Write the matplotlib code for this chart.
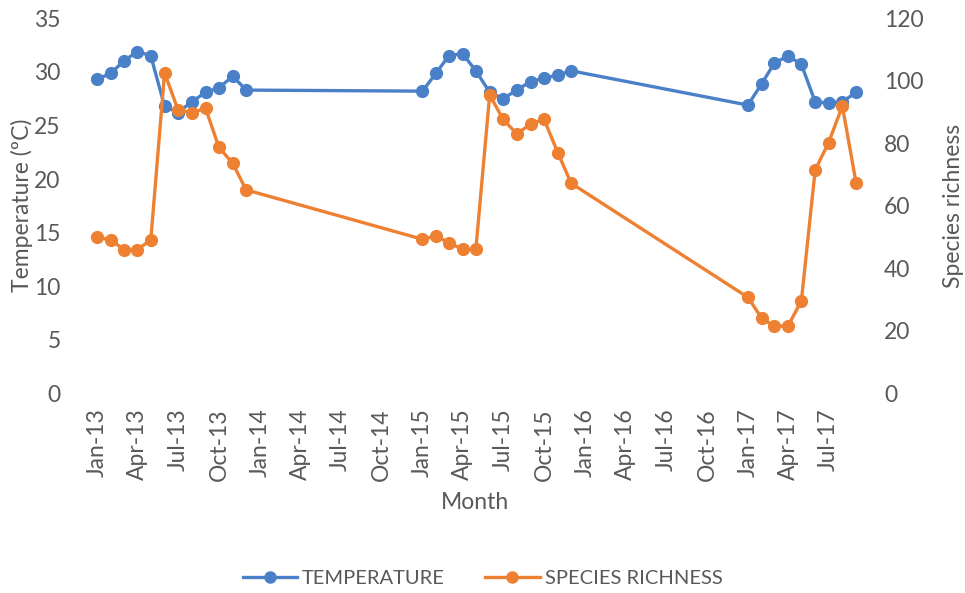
import pandas as pd
import matplotlib
matplotlib.use('Agg')
import matplotlib.pyplot as plt
import matplotlib.dates as mdates
from matplotlib.lines import Line2D

# Dados
meses = ['Jan-13', 'Feb-13', 'Mar-13', 'Apr-13', 'May-13', 'Jun-13', 'Jul-13', 'Aug-13',
         'Sep-13', 'Oct-13', 'Nov-13', 'Dec-13',
         'Jan-15', 'Feb-15', 'Mar-15', 'Apr-15', 'May-15', 'Jun-15', 'Jul-15', 'Aug-15',
         'Sep-15', 'Oct-15', 'Nov-15', 'Dec-15',
         'Jan-17', 'Feb-17', 'Mar-17', 'Apr-17', 'May-17', 'Jun-17', 'Jul-17', 'Aug-17',
         'Sep-17']
temperatura = [29.3, 29.9, 31.0, 31.9, 31.5, 26.8, 26.2, 27.2, 28.1, 28.5, 29.6, 28.3,
               28.2, 29.9, 31.5, 31.7, 30.1, 28.1, 27.5, 28.3, 29.1, 29.4, 29.7, 30.1,
               26.9, 28.9, 30.8, 31.5, 30.7, 27.2, 27.1, 27.2, 28.1]
riqueza = [49.9, 49.1, 46.0, 46.0, 49.1, 102.6, 90.7, 89.8, 91.2, 78.7, 73.6, 65.1,
           49.3, 50.3, 48.2, 46.1, 46.1, 95.5, 87.7, 83.0, 86.2, 87.7, 77.0, 67.2,
           30.7, 24.0, 21.5, 21.5, 29.6, 71.5, 80.2, 91.9, 67.2]
rotulos_x = ['Jan-13', 'Apr-13', 'Jul-13', 'Oct-13', 'Jan-14', 'Apr-14', 'Jul-14', 'Oct-14',
             'Jan-15', 'Apr-15', 'Jul-15', 'Oct-15', 'Jan-16', 'Apr-16', 'Jul-16', 'Oct-16',
             'Jan-17', 'Apr-17', 'Jul-17']

datas = pd.to_datetime(meses, format='%b-%y')
datas_ticks = pd.to_datetime(rotulos_x, format='%b-%y')

azul = '#4A80C8'
laranja = '#EE8032'
cinza = '#595959'

plt.rcParams['font.family'] = ['Lato', 'DejaVu Sans']
fs = 16.5

fig = plt.figure(figsize=(9.65, 5.93), dpi=100)
ax = fig.add_axes([80 / 965, 199.7 / 593, 790 / 965, 375 / 593])
ax2 = ax.twinx()

ax.plot(datas, temperatura, color=azul, lw=2.4, marker='o', ms=8.5, zorder=3)
ax2.plot(datas, riqueza, color=laranja, lw=2.4, marker='o', ms=8.5, zorder=3)

inicio = mdates.date2num(pd.Timestamp('2013-01-01')) - 1.28 * 30.44
fim = mdates.date2num(pd.Timestamp('2013-01-01')) + 57.0 * 30.44
ax.set_xlim(inicio, fim)
ax.set_ylim(0, 35)
ax2.set_ylim(0, 120)
ax.set_yticks(range(0, 36, 5))
ax2.set_yticks(range(0, 121, 20))
ax.set_xticks(mdates.date2num(datas_ticks))
ax.set_xticklabels(rotulos_x, rotation=90)

for a in (ax, ax2):
    for s in a.spines.values():
        s.set_visible(False)
    a.tick_params(length=0, labelsize=fs, colors=cinza)
ax.tick_params(axis='y', pad=14)
ax.tick_params(axis='x', pad=11)
ax2.tick_params(axis='y', pad=10)

ax.set_xlabel('Month', fontsize=fs, color=cinza, labelpad=8)
ax.set_ylabel('Temperature (ºC)', fontsize=fs, color=cinza, labelpad=1)
ax2.set_ylabel('Species richness', fontsize=fs, color=cinza, labelpad=14)

itens = [Line2D([], [], color=azul, lw=2.4, marker='o', ms=8),
         Line2D([], [], color=laranja, lw=2.4, marker='o', ms=8)]
leg = fig.legend(itens, ['TEMPERATURE', 'SPECIES RICHNESS'], loc='center',
                 bbox_to_anchor=(0.5, 15 / 593), ncol=2, frameon=False, fontsize=14.5,
                 handlelength=2.7, columnspacing=2.0, handletextpad=0.25)
for t in leg.get_texts():
    t.set_color(cinza)

fig.savefig('out.png', dpi=100)
